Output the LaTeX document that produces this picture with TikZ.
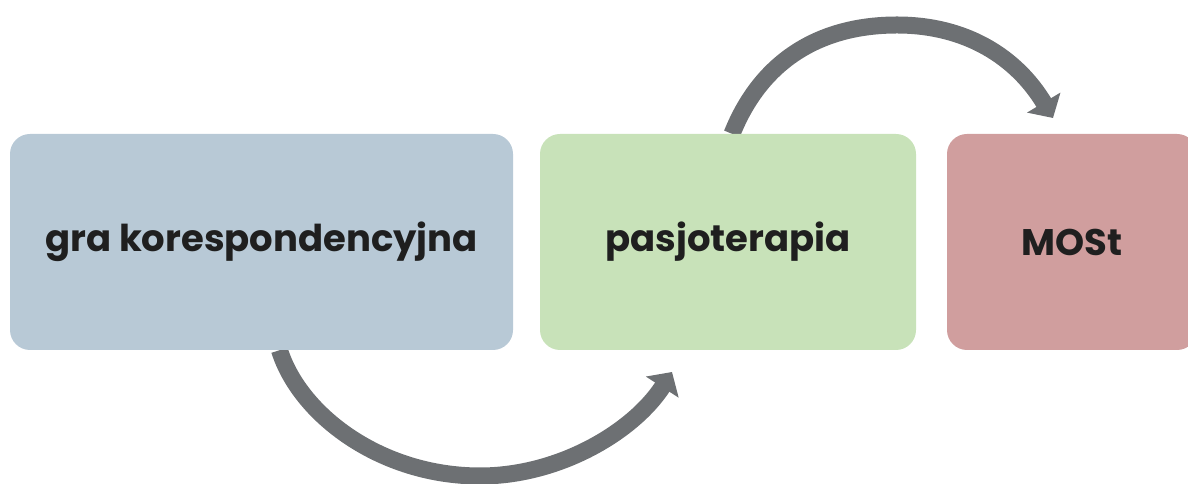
\documentclass[tikz,border=0pt]{standalone}
\usepackage{fontspec}
\setmainfont{Poppins}
\usetikzlibrary{arrows.meta,backgrounds}

\definecolor{boxblue}{HTML}{B8C9D6}
\definecolor{boxgreen}{HTML}{C8E2B9}
\definecolor{boxred}{HTML}{D09E9E}
\definecolor{arrowgray}{HTML}{6D7073}

\tikzset{
  stage/.style={rounded corners=20pt, inner sep=0pt, minimum height=216pt,
    font=\fontsize{37}{44}\selectfont\bfseries, text=black!88},
  flow/.style={draw=arrowgray, line width=17pt,
    -{Triangle[length=18pt,width=38pt]}}
}

\begin{document}
\begin{tikzpicture}[x=1pt, y=1pt]

\useasboundingbox (0, 0) rectangle (1188, 484);
\clip (0, 0) rectangle (1188, 484);

\node[stage, fill=boxblue, minimum width=503pt] (gra) at (261.5, 242) {gra korespondencyjna};
\node[stage, fill=boxgreen, minimum width=376pt] (pas) at (728, 242) {pasjoterapia};
\node[stage, fill=boxred, minimum width=250pt] (most) at (1072, 242) {MOSt};

\coordinate (low-mid) at (480, 8);
\coordinate (low-tip) at (672, 112);
\coordinate (high-mid) at (897, 459);
\coordinate (high-tip) at (1053, 366);

\begin{scope}[on background layer]
\draw[flow] ([xshift=18pt]gra.south) .. controls +(20, -64) and +(-100, 0) .. (low-mid)
  .. controls +(80, 0) and +(-38, -59) .. (low-tip);
\draw[flow] ([xshift=4pt]pas.north) .. controls +(30, 75) and +(-75, 0) .. (high-mid)
  .. controls +(70, 0) and +(-36, 60) .. (high-tip);
\end{scope}

\end{tikzpicture}
\end{document}
